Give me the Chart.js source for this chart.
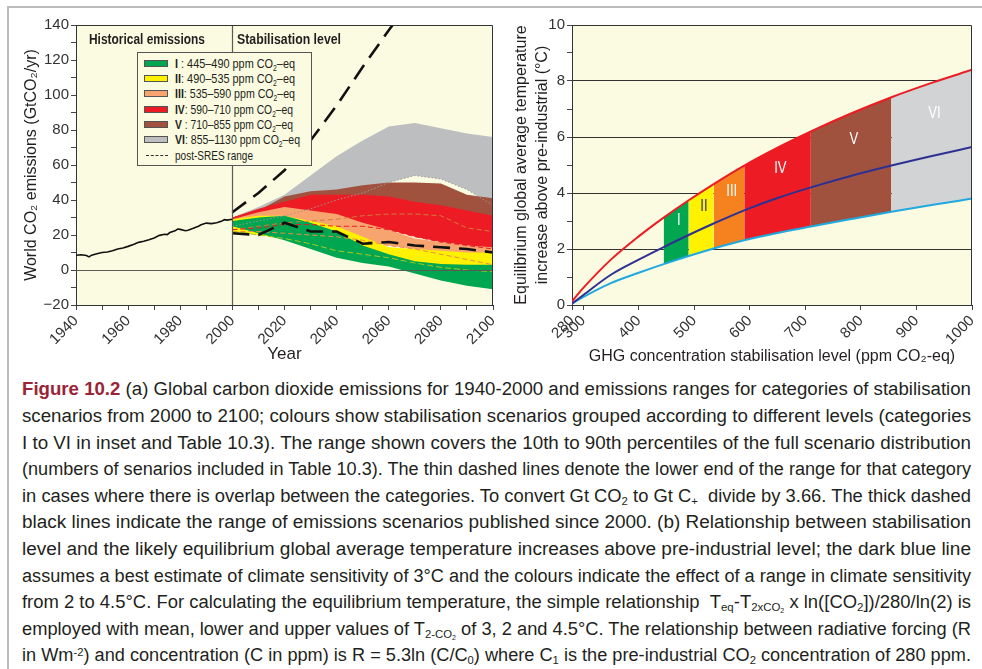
<!DOCTYPE html>
<html>
<head>
<meta charset="utf-8">
<script src="https://cdn.jsdelivr.net/npm/chart.js@4.4.1/dist/chart.umd.min.js"></script>
<style>
body{margin:0;background:#fff;width:982px;height:669px;overflow:hidden;position:relative;font-family:'Liberation Sans',Arial,sans-serif;color:#231f20}
#frameTop{position:absolute;left:8px;top:6px;width:974px;height:2px;background:#bcbcbc}
#frameLeft{position:absolute;left:7px;top:6px;width:2px;height:663px;background:#bcbcbc}
#leftBox{position:absolute;left:0;top:0;width:500px;height:370px}
#rightBox{position:absolute;left:500px;top:0;width:482px;height:370px}
.title{position:absolute;white-space:nowrap;font-weight:bold;font-size:14px;line-height:16px;color:#231f20;transform-origin:0 0}
#legend{position:absolute;left:137px;top:52px;width:173px;height:112px;background:#fbfbe1;border:1px solid #555}
.lrow{position:absolute;left:0;height:15px;width:173px}
.sw{position:absolute;left:6px;top:4px;width:22px;height:5px;border:1px solid #555}
.dash{position:absolute;left:8px;top:7px;width:22px;height:0;border-top:1.5px dashed #333}
.ltxt{position:absolute;left:37px;top:0;white-space:nowrap;font-size:13.5px;line-height:15px;transform-origin:0 0;color:#231f20}
sub{font-size:0.62em;vertical-align:-0.3em;line-height:0}
sup{font-size:0.62em;vertical-align:0.45em;line-height:0}
.cap{position:absolute;left:22px;white-space:nowrap;font-size:18px;line-height:26.6px;transform-origin:0 0;color:#231f20}
.cap b{color:#9b2335}
</style>
</head>
<body>
<div id="frameTop"></div>
<div id="frameLeft"></div>
<div id="leftBox"><canvas id="leftChart"></canvas></div>
<div id="rightBox"><canvas id="rightChart"></canvas></div>
<script>
// Historical emissions 1940-2000 (GtCO2/yr)
const histYears = [1940,1942,1944,1945,1946,1948,1950,1952,1954,1956,1958,1960,1962,1964,1966,1968,1970,1972,1974,1975,1976,1978,1979,1980,1982,1983,1985,1987,1988,1990,1992,1994,1996,1997,1998,2000];
const histCO2 = [8.4,8.7,8.3,7.5,8.5,9.3,10,10.3,11,12,12.6,13.5,14.6,15.8,16.4,17.3,18.3,19.8,20.4,20.2,21.4,22.4,23.4,23.2,22.4,22.7,23.8,25,25.8,26.8,26.5,27,28,28.8,28.5,29];

// Scenario ranges 2000-2100 (10th / 90th percentile)
const scenYears = [2000,2010,2020,2030,2040,2050,2060,2070,2080,2090,2100];
const catI_hi   = [28,30,31,27,22,14,9,5,3.5,3,3];
const catI_lo   = [25,21,17,12,7,4,2,-2,-6,-9,-11];
const catII_hi  = [29,31,31,28,25,19,13,12,11,10,10];
const catII_lo  = [22,20,18,15,11,9,7,4,1.5,0,-1];
const catIII_hi = [29,33,36,34,32,27,23,18,16,14,13];
const catIII_lo = [22,22,21,20,19,17,14,12,9,6,3];
const catIV_hi  = [30,35,39,43,43,43,42,39,37,34,31];
const catIV_lo  = [23,24,26,26,25,25,23,19,16,14,12];
const catV_hi   = [30,34,42,45,46,48.5,50,50,49.5,43,41];
const catV_lo   = [23,25,27,28,29,31,32,32,31,24,22];
const catVI_hi  = [30,36,43,54,65,74,82,84,81,78,76];
const catVI_lo  = [25,28,31,35,40,44,50,54,52,46,37];

// post-SRES range (thick dashed)
const sresHiYears = [2000,2010,2020,2030,2040,2050,2060,2063];
const sresHi = [33,44,57,74,94,116,137,143];
const sresLoYears = [2000,2010,2020,2030,2040,2050,2060,2070,2080,2090,2100];
const sresLo = [21,20,27,22,22,15,16,14,13,12,10];

// Categories
const catNames = ['I','II','III','IV','V','VI'];
const catRanges = ['445–490','490–535','535–590','590–710','710–855','855–1130'];
const catLowPpm = [445,490,535,590,710,855];
const catHighPpm = [490,535,590,710,855,1130];

// Equilibrium temperature vs stabilisation level
const concPts  = [280,300,350,400,445,490,535,590,650,710,780,855,930,1000];
const tempHigh = [0.13,0.6,1.62,2.45,3.12,3.74,4.32,4.98,5.62,6.2,6.82,7.42,7.95,8.4];
const tempBest = [0.05,0.35,1.08,1.62,2.07,2.5,2.91,3.38,3.82,4.2,4.6,4.98,5.33,5.64];
const tempLow  = [0.05,0.28,0.78,1.15,1.46,1.75,2.02,2.31,2.57,2.8,3.06,3.33,3.58,3.8];
const rightXTicks = [280,300,400,500,600,700,800,900,1000];

const leftFill  = ['#00a650','#fff200','#f7a46f','#ed1c24','#a0523f','#bcbec0'];
const rightFill = ['#00a650','#fff200','#f5821f','#ed1c24','#a0523f','#d1d3d4'];
const lowLine   = [null,'#a8c81e','#ef8a4a','#ed1c24','#d07a3c','#9a9a9a'];
const lowDash   = [[],[6,3],[5,3],[5,3],[5,3],[1.5,2]];

const catHi = [catI_hi,catII_hi,catIII_hi,catIV_hi,catV_hi,catVI_hi];
const catLo = [catI_lo,catII_lo,catIII_lo,catIV_lo,catV_lo,catVI_lo];

Chart.defaults.font.family = "'Liberation Sans', Arial, sans-serif";
Chart.defaults.color = '#333';

const pts = (xs, ys) => xs.map((x, i) => ({x: x, y: ys[i]}));
const plotBg = '#fbfbe1';

// plot area background + frame
const areaPlugin = {
  id: 'area',
  beforeDraw(chart) {
    const a = chart.chartArea, ctx = chart.ctx;
    ctx.save();
    ctx.fillStyle = plotBg;
    ctx.fillRect(a.left, a.top, a.right - a.left, a.bottom - a.top);
    ctx.restore();
  },
  afterDraw(chart) {
    const a = chart.chartArea, ctx = chart.ctx;
    ctx.save();
    ctx.strokeStyle = '#333';
    ctx.lineWidth = 1;
    ctx.beginPath();
    ctx.moveTo(a.left, a.top + 0.5);
    ctx.lineTo(a.right - 0.5, a.top + 0.5);
    ctx.lineTo(a.right - 0.5, a.bottom);
    ctx.stroke();
    ctx.restore();
  }
};

// zero line and 2000 divider, drawn over the bands
const refLines = {
  id: 'refLines',
  afterDatasetsDraw(chart) {
    const a = chart.chartArea, ctx = chart.ctx;
    const x = chart.scales.x, y = chart.scales.y;
    ctx.save();
    ctx.strokeStyle = '#5a5a55';
    ctx.lineWidth = 1.2;
    const y0 = Math.round(y.getPixelForValue(0)) + 0.5;
    ctx.beginPath(); ctx.moveTo(a.left, y0); ctx.lineTo(a.right, y0); ctx.stroke();
    const x0 = Math.round(x.getPixelForValue(2000)) + 0.5;
    ctx.beginPath(); ctx.moveTo(x0, a.top); ctx.lineTo(x0, a.bottom); ctx.stroke();
    ctx.restore();
  }
};

// ---------- left chart ----------
const leftSets = [
  {data: pts(histYears, histCO2), borderColor: '#111', borderWidth: 1.6, order: 0},
  {data: pts(sresHiYears, sresHi), borderColor: '#111', borderWidth: 2.6, borderDash: [17,9], order: 0},
  {data: pts(sresLoYears, sresLo), borderColor: '#111', borderWidth: 2.6, borderDash: [17,9], order: 0}
];
catNames.forEach((n, k) => {
  const upIdx = leftSets.length;
  leftSets.push({data: pts(scenYears, catHi[k]), borderWidth: 0, borderColor: 'transparent',
    backgroundColor: leftFill[k], fill: upIdx + 1, order: 10 + k});
  leftSets.push({data: pts(scenYears, catLo[k]), borderWidth: lowLine[k] ? 1 : 0,
    borderColor: lowLine[k] || 'transparent', borderDash: lowDash[k], fill: false, order: 1});
});

const leftChart = new Chart(document.getElementById('leftChart'), {
  type: 'line',
  data: {datasets: leftSets},
  options: {
    responsive: true, maintainAspectRatio: false, animation: false,
    layout: {padding: {left: 0, top: 25, right: 7, bottom: 0}},
    elements: {point: {radius: 0}, line: {tension: 0}},
    plugins: {legend: {display: false}, tooltip: {enabled: false}},
    scales: {
      x: {
        type: 'linear', min: 1940, max: 2100,
        ticks: {stepSize: 10, autoSkip: false, minRotation: 45, maxRotation: 45, padding: 2,
          font: {size: 15}, color: '#333', callback: v => v % 20 === 0 ? String(v) : ''},
        grid: {drawOnChartArea: false, tickLength: 5, tickColor: '#444'},
        border: {color: '#333'},
        title: {display: true, text: 'Year', font: {size: 17}, color: '#231f20', padding: {top: 0, bottom: 5}},
        afterFit(s) { s.height = 65; s.paddingLeft = 0; s.paddingRight = 0; }
      },
      y: {
        min: -20, max: 140,
        ticks: {stepSize: 10, autoSkip: false, padding: 2, font: {size: 15}, color: '#333',
          callback: v => v % 20 === 0 ? String(v).replace('-', '−') : ''},
        grid: {drawOnChartArea: false, tickLength: 5, tickColor: '#444'},
        border: {color: '#333'},
        title: {display: true, text: 'World CO₂ emissions (GtCO₂/yr)', font: {size: 16}, color: '#231f20', padding: {top: 22, bottom: 0}},
        afterFit(s) { s.width = 76; s.paddingTop = 0; s.paddingBottom = 0; }
      }
    }
  },
  plugins: [areaPlugin, refLines]
});

// ---------- right chart ----------
const interp = (xs, ys, x) => {
  for (let i = 1; i < xs.length; i++) {
    if (x <= xs[i]) return ys[i-1] + (ys[i] - ys[i-1]) * (x - xs[i-1]) / (xs[i] - xs[i-1]);
  }
  return ys[ys.length - 1];
};

const rightSets = [
  {data: pts(concPts, tempHigh), borderColor: '#ed1c24', borderWidth: 2, cubicInterpolationMode: 'monotone', order: 0},
  {data: pts(concPts, tempBest), borderColor: '#2e3192', borderWidth: 2, cubicInterpolationMode: 'monotone', order: 0},
  {data: pts(concPts, tempLow), borderColor: '#1fa9e1', borderWidth: 2, cubicInterpolationMode: 'monotone', order: 0}
];
catNames.forEach((n, k) => {
  const hi = Math.min(catHighPpm[k], 1000);
  const idx = concPts.map((c, i) => i).filter(i => concPts[i] >= catLowPpm[k] && concPts[i] <= hi);
  const upIdx = rightSets.length;
  rightSets.push({data: idx.map(i => ({x: concPts[i], y: tempHigh[i]})), borderWidth: 0, borderColor: 'transparent',
    backgroundColor: rightFill[k], fill: upIdx + 1, cubicInterpolationMode: 'monotone', order: 5});
  rightSets.push({data: idx.map(i => ({x: concPts[i], y: tempLow[i]})), borderWidth: 0, borderColor: 'transparent',
    fill: false, cubicInterpolationMode: 'monotone', order: 5});
});

const catLabels = {
  id: 'catLabels',
  afterDatasetsDraw(chart) {
    const ctx = chart.ctx, x = chart.scales.x, y = chart.scales.y;
    ctx.save();
    ctx.font = "16px 'Liberation Sans', Arial, sans-serif";
    ctx.textAlign = 'center';
    ctx.textBaseline = 'middle';
    catNames.forEach((n, k) => {
      const c = (catLowPpm[k] + Math.min(catHighPpm[k], 1000)) / 2 + 5;
      const lo = interp(concPts, tempLow, c), up = interp(concPts, tempHigh, c);
      const t = lo + (up - lo) * 0.74;
      ctx.save();
      ctx.translate(x.getPixelForValue(c), y.getPixelForValue(t));
      ctx.scale(0.82, 1);
      ctx.fillStyle = n === 'II' ? '#2e3192' : '#fff';
      ctx.fillText(n, 0, 0);
      ctx.restore();
    });
    ctx.restore();
  }
};

const rightChart = new Chart(document.getElementById('rightChart'), {
  type: 'line',
  data: {datasets: rightSets},
  options: {
    responsive: true, maintainAspectRatio: false, animation: false,
    layout: {padding: {left: 0, top: 25, right: 10, bottom: 0}},
    elements: {point: {radius: 0}, line: {tension: 0}},
    plugins: {legend: {display: false}, tooltip: {enabled: false}},
    scales: {
      x: {
        type: 'linear', min: 280, max: 1000,
        afterBuildTicks(s) { s.ticks = rightXTicks.map(v => ({value: v})); },
        ticks: {autoSkip: false, minRotation: 45, maxRotation: 45, padding: 2, font: {size: 15}, color: '#333',
          callback: v => String(v)},
        grid: {drawOnChartArea: false, tickLength: 5, tickColor: '#444'},
        border: {color: '#333'},
        title: {display: true, text: 'GHG concentration stabilisation level (ppm CO₂-eq)', font: {size: 16}, color: '#231f20', padding: {top: 0, bottom: 4}},
        afterFit(s) { s.height = 65; s.paddingLeft = 0; s.paddingRight = 0; }
      },
      y: {
        min: 0, max: 10,
        ticks: {stepSize: 1, autoSkip: false, padding: 2, font: {size: 15}, color: '#333',
          callback: v => v % 2 === 0 ? String(v) : ''},
        grid: {tickLength: 5, tickColor: '#444',
          color: c => (c.tick.value % 2 === 0 && c.tick.value > 0 && c.tick.value < 10) ? '#333' : 'transparent'},
        border: {color: '#333'},
        title: {display: true, text: ['Equilibrium global average temperature', 'increase above pre-industrial (°C)'],
          font: {size: 16, lineHeight: 1.3}, color: '#231f20', padding: {top: 11, bottom: 0}},
        afterFit(s) { s.width = 72; s.paddingTop = 0; s.paddingBottom = 0; }
      }
    }
  },
  plugins: [areaPlugin, catLabels]
});

// ---------- overlays: panel titles and legend ----------
const fitText = (el, w) => {
  const r = el.getBoundingClientRect().width;
  el.style.transform = 'scaleX(' + (w / r) + ')';
};
const lx = leftChart.scales.x;
const addTitle = (text, left, width) => {
  const d = document.createElement('div');
  d.className = 'title';
  d.textContent = text;
  d.style.left = left + 'px';
  d.style.top = '31px';
  document.body.appendChild(d);
  fitText(d, width);
};
addTitle('Historical emissions', lx.getPixelForValue(1940) + 13, 116);
addTitle('Stabilisation level', lx.getPixelForValue(2000) + 5, 104);

const legend = document.createElement('div');
legend.id = 'legend';
document.body.appendChild(legend);
catNames.forEach((n, k) => {
  const row = document.createElement('div');
  row.className = 'lrow';
  row.style.top = (3 + k * 15.2) + 'px';
  row.innerHTML = '<div class="sw" style="background:' + leftFill[k] + '"></div>' +
    '<div class="ltxt"><b>' + n + '</b>' + (n.length === 1 ? '&nbsp;' : '') + ': ' + catRanges[k] + ' ppm CO<sub>2</sub>–eq</div>';
  legend.appendChild(row);
  fitText(row.querySelector('.ltxt'), k === 5 ? 125 : (k === 3 || k === 4 ? 118 : 120));
});
const srow = document.createElement('div');
srow.className = 'lrow';
srow.style.top = (3 + 6 * 15.2 + 1) + 'px';
srow.innerHTML = '<div class="dash"></div><div class="ltxt">post-SRES range</div>';
legend.appendChild(srow);
fitText(srow.querySelector('.ltxt'), 78);

// ---------- caption ----------
const captionLines = [
  '<b>Figure 10.2</b> (a) Global carbon dioxide emissions for 1940-2000 and emissions ranges for categories of stabilisation',
  'scenarios from 2000 to 2100; colours show stabilisation scenarios grouped according to different levels (categories',
  'I to VI in inset and Table 10.3). The range shown covers the 10th to 90th percentiles of the full scenario distribution',
  '(numbers of senarios included in Table 10.3). The thin dashed lines denote the lower end of the range for that category',
  'in cases where there is overlap between the categories. To convert Gt CO<sub>2</sub> to Gt C<sub>+</sub>&nbsp; divide by 3.66. The thick dashed',
  'black lines indicate the range of emissions scenarios published since 2000. (b) Relationship between stabilisation',
  'level and the likely equilibrium global average temperature increases above pre-industrial level; the dark blue line',
  'assumes a best estimate of climate sensitivity of 3°C and the colours indicate the effect of a range in climate sensitivity',
  'from 2 to 4.5°C. For calculating the equilibrium temperature, the simple relationship &nbsp;T<sub>eq</sub>-T<sub>2xCO<sub>2</sub></sub> x ln([CO<sub>2</sub>])/280/ln(2) is',
  'employed with mean, lower and upper values of T<sub>2-CO<sub>2</sub></sub> of 3, 2 and 4.5°C. The relationship between radiative forcing (R',
  'in Wm<sup>-2</sup>) and concentration (C in ppm) is R = 5.3ln (C/C<sub>0</sub>) where C<sub>1</sub> is the pre-industrial CO<sub>2</sub> concentration of 280 ppm.'
];
captionLines.forEach((html, i) => {
  const d = document.createElement('div');
  d.className = 'cap';
  d.innerHTML = html;
  d.style.top = (376.3 + i * 26.6) + 'px';
  document.body.appendChild(d);
  fitText(d, 949);
});
</script>
</body>
</html>
